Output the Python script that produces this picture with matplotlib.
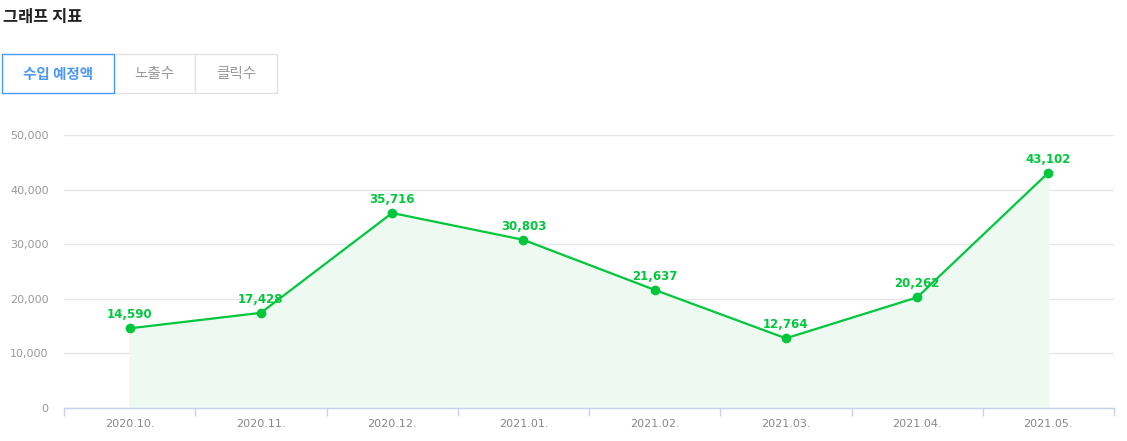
import numpy as np
import matplotlib
matplotlib.use("Agg")
import matplotlib.pyplot as plt
from matplotlib.patches import Rectangle

plt.rcParams['font.family'] = ['Noto Sans CJK KR', 'DejaVu Sans']

# Data
months = ['2020.10.', '2020.11.', '2020.12.', '2021.01.', '2021.02.', '2021.03.', '2021.04.', '2021.05.']
revenue = [14590, 17428, 35716, 30803, 21637, 12764, 20262, 43102]
tabs = ['수입 예정액', '노출수', '클릭수']

W, H = 1127, 441
fig = plt.figure(figsize=(W / 100, H / 100), dpi=100)

def fx(px):
    return px / W

def fy(py):
    return 1 - py / H

# Header and tabs
fig.text(fx(3), fy(17), '그래프 지표', fontsize=11.8, fontweight='bold', color='#222222', va='center', ha='left')

tab_edges = [(2, 114), (114, 195), (195, 277)]
for i, (name, (x0, x1)) in enumerate(zip(tabs, tab_edges)):
    active = i == 0
    ec = '#4a98f7' if active else '#e3e3e3'
    rect = Rectangle((fx(x0), fy(93)), fx(x1 - x0), 39 / H, transform=fig.transFigure,
                     facecolor='white', edgecolor=ec, linewidth=1, zorder=2 if active else 1)
    fig.add_artist(rect)
    fig.text(fx((x0 + x1) / 2), fy(74), name, fontsize=10.5, ha='center', va='center',
             color='#4a98f7' if active else '#999999', fontweight='bold' if active else 'normal')

# Chart
ax = fig.add_axes([fx(64), fy(408), fx(1114 - 64), (408 - 135) / H])
x = np.arange(len(months))
green = '#00c73c'
ax.fill_between(x, revenue, 0, color='#eef9f1', zorder=1)
ax.plot(x, revenue, color=green, linewidth=1.6, marker='o', markersize=6, zorder=3)
for xi, v in zip(x, revenue):
    ax.annotate(f'{v:,}', (xi, v), xytext=(0, 5), textcoords='offset points', ha='center', va='bottom',
                fontsize=8.5, fontweight='bold', color=green, family=['DejaVu Sans'], zorder=4)

ax.set_xlim(-0.5, len(months) - 0.5)
ax.set_ylim(0, 50000)
ax.set_yticks(np.arange(0, 50001, 10000))
ax.set_yticklabels([f'{t:,}' for t in range(0, 50001, 10000)])
ax.grid(axis='y', color='#e6e6e6', linewidth=1)
ax.set_axisbelow(True)

ax.set_xticks(x)
ax.set_xticklabels(months)
ax.set_xticks(np.arange(-0.5, len(months)), minor=True)
ax.tick_params(axis='x', which='major', length=0, pad=8, labelsize=8, labelcolor='#888888')
ax.tick_params(axis='x', which='minor', length=6, color='#c5d3ea', width=1)
ax.tick_params(axis='y', length=0, pad=11, labelsize=8, labelcolor='#999999')
for lab in ax.get_xticklabels() + ax.get_yticklabels():
    lab.set_family(['DejaVu Sans'])

for s in ['top', 'right', 'left']:
    ax.spines[s].set_visible(False)
ax.spines['bottom'].set_color('#c5d3ea')
ax.spines['bottom'].set_linewidth(1)

fig.savefig('out.png', dpi=100)
